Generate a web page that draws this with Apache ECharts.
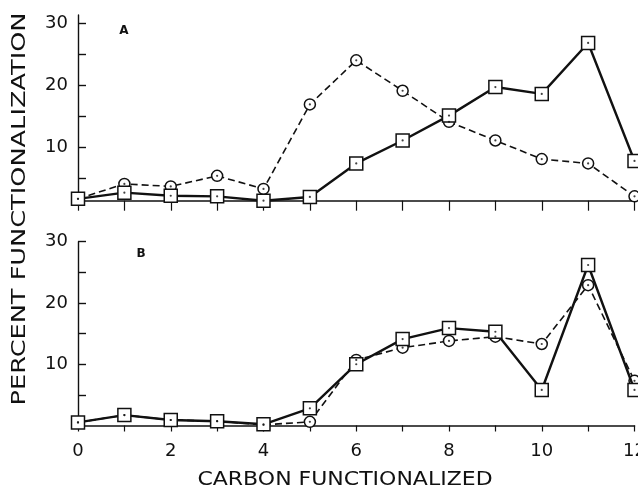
<!DOCTYPE html>
<html>
<head>
<meta charset="utf-8">
<script src="https://cdn.jsdelivr.net/npm/echarts@6/dist/echarts.min.js"></script>
<style>
html,body{margin:0;padding:0;background:#fff;}
#chart{width:638px;height:490px;}
</style>
</head>
<body>
<div id="chart"></div>
<script>
// Data
var carbon = [0, 1, 2, 3, 4, 5, 6, 7, 8, 9, 10, 11, 12];
var aSquare = [1.7, 2.7, 2.2, 2.1, 1.4, 2.0, 7.4, 11.1, 15.1, 19.7, 18.6, 26.8, 7.8];
var aCircle = [1.7, 4.1, 3.7, 5.4, 3.3, 16.9, 24.0, 19.1, 14.1, 11.1, 8.1, 7.4, 2.1];
var bSquare = [0.5, 1.7, 0.9, 0.7, 0.2, 2.8, 10.0, 14.1, 15.9, 15.3, 5.8, 26.2, 5.8];
var bCircle = [0.5, 1.7, 0.9, 0.7, 0.1, 0.6, 10.7, 12.7, 13.8, 14.5, 13.3, 22.9, 7.3];
var yTickValues = [5, 10, 15, 20, 25, 30];
var yTickLabels = [10, 20, 30];
var xTickLabels = [0, 2, 4, 6, 8, 10, 12];
var panelLabels = ['A', 'B'];
var yTitle = 'PERCENT FUNCTIONALIZATION';
var xTitle = 'CARBON FUNCTIONALIZED';

function pairs(ys) { return carbon.map(function (x, i) { return [x, ys[i]]; }); }

var FONT = 'DejaVu Sans';
var INK = '#111';

function xAxisCfg(idx, showLabels, tickLen) {
  return {
    gridIndex: idx, type: 'value', min: 0, max: 12, interval: 1,
    axisLine: { show: true, onZero: false, lineStyle: { color: INK, width: 1.6 } },
    axisTick: { show: true, inside: false, length: tickLen, lineStyle: { color: INK, width: 1.2 } },
    axisLabel: {
      show: showLabels, margin: 17, color: INK, fontFamily: FONT, fontSize: 18, hideOverlap: false,
      formatter: function (v) { return xTickLabels.indexOf(v) >= 0 ? String(v) : ''; }
    },
    splitLine: { show: false }
  };
}
function yAxisCfg(idx, min, max) {
  return {
    gridIndex: idx, type: 'value', min: min, max: max,
    axisLine: { show: true, onZero: false, lineStyle: { color: INK, width: 1.4 } },
    axisTick: { show: true, inside: true, length: 8, customValues: yTickValues, lineStyle: { color: INK, width: 1.4 } },
    axisLabel: { show: true, margin: 10, color: INK, fontFamily: FONT, fontSize: 18, customValues: yTickLabels },
    splitLine: { show: false }
  };
}
function lineSeries(idx, ys, symbol, size, solid) {
  return {
    type: 'line', xAxisIndex: idx, yAxisIndex: idx, data: pairs(ys),
    symbol: symbol, symbolSize: size, showSymbol: true, clip: false,
    lineStyle: solid ? { color: INK, width: 2.4 } : { color: INK, width: 1.6, type: [7, 4] },
    itemStyle: { color: '#fff', borderColor: INK, borderWidth: 1.5 },
    z: solid ? 3 : 2
  };
}
function dotSeries(idx, ys) {
  return {
    type: 'scatter', xAxisIndex: idx, yAxisIndex: idx, data: pairs(ys),
    symbol: 'circle', symbolSize: 2.2, clip: false, silent: true,
    itemStyle: { color: INK }, z: 5
  };
}

var chart = echarts.init(document.getElementById('chart'), null, { renderer: 'canvas' });
chart.setOption({
  animation: false,
  backgroundColor: '#fff',
  grid: [
    { left: 78, right: 3.5, top: 15, height: 185.7, containLabel: false, outerBoundsMode: 'none' },
    { left: 78, right: 3.5, top: 241.7, height: 183.8, containLabel: false, outerBoundsMode: 'none' }
  ],
  xAxis: [xAxisCfg(0, false, 10), xAxisCfg(1, true, 6)],
  yAxis: [yAxisCfg(0, 1.4, 31.3), yAxisCfg(1, 0, 30)],
  series: [
    lineSeries(0, aCircle, 'circle', 11, false),
    lineSeries(0, aSquare, 'rect', 13, true),
    lineSeries(1, bCircle, 'circle', 11, false),
    lineSeries(1, bSquare, 'rect', 13, true),
    dotSeries(0, aSquare), dotSeries(0, aCircle),
    dotSeries(1, bSquare), dotSeries(1, bCircle)
  ],
  graphic: [
    { type: 'text', x: 124, y: 31, style: { text: panelLabels[0], font: 'bold 12px ' + FONT, fill: INK, align: 'center', verticalAlign: 'middle' } },
    { type: 'text', x: 141, y: 254, style: { text: panelLabels[1], font: 'bold 12px ' + FONT, fill: INK, align: 'center', verticalAlign: 'middle' } },
    { type: 'text', x: 20, y: 209, rotation: Math.PI / 2, scaleX: 1.28,
      style: { text: yTitle, font: '20px ' + FONT, fill: INK, align: 'center', verticalAlign: 'middle' } },
    { type: 'text', x: 345, y: 480, scaleX: 1.1,
      style: { text: xTitle, font: '20px ' + FONT, fill: INK, align: 'center', verticalAlign: 'middle' } }
  ]
});
</script>
</body>
</html>
